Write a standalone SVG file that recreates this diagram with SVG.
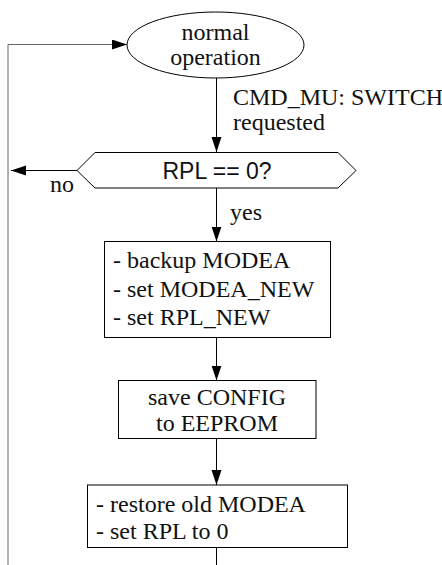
<svg xmlns="http://www.w3.org/2000/svg" width="442" height="565" viewBox="0 0 442 565">
<defs>
<marker id="ah" markerUnits="userSpaceOnUse" markerWidth="16" markerHeight="12" refX="15" refY="5" orient="auto">
<path d="M0,0 L15,5 L0,10 z" fill="#000"/>
</marker>
<style>
.s{fill:#fff;stroke:#000;stroke-width:1}
.t{font-family:"Liberation Serif","Times New Roman",serif;font-size:24px;fill:#111}
.a{font-family:"Liberation Sans",Arial,sans-serif;font-size:23px;fill:#111}
.c{fill:none;stroke:#000;stroke-width:1}
</style>
</defs>
<g id="connectors">
<path class="c" d="M8,565 V44.5 H127" style="stroke:#666" marker-end="url(#ah)"/>
<path class="c" d="M216.5,78 V152" marker-end="url(#ah)"/>
<path class="c" d="M77,170.5 H11" marker-end="url(#ah)"/>
<path class="c" d="M216.5,188 V241.5" marker-end="url(#ah)"/>
<path class="c" d="M216.5,337.5 V380.5" marker-end="url(#ah)"/>
<path class="c" d="M216.5,438.5 V485" marker-end="url(#ah)"/>
<path class="c" d="M216.5,547.5 V565"/>
<text class="t" x="233" y="105">CMD_MU: SWITCH</text>
<text class="t" x="233" y="130">requested</text>
<text class="t" x="50" y="192">no</text>
<text class="t" x="230" y="220">yes</text>
</g>
<g id="normal">
<ellipse class="s" cx="215.5" cy="45" rx="88.5" ry="33"/>
<text class="t" x="215.5" y="40" text-anchor="middle">normal</text>
<text class="t" x="215.5" y="65" text-anchor="middle">operation</text>
</g>
<g id="decision">
<polygon class="s" points="77,170.5 95,152.5 338,152.5 356,170.5 338,188 95,188"/>
<text class="a" x="217" y="178.5" text-anchor="middle">RPL == 0?</text>
</g>
<g id="backup">
<rect class="s" x="104.5" y="241.5" width="226" height="96"/>
<text class="t" x="113" y="268">- backup MODEA</text>
<text class="t" x="113" y="296.5">- set MODEA_NEW</text>
<text class="t" x="113" y="324.5">- set RPL_NEW</text>
</g>
<g id="save">
<rect class="s" x="118.5" y="380.5" width="197.5" height="58"/>
<text class="t" x="217" y="405" text-anchor="middle">save CONFIG</text>
<text class="t" x="217" y="431" text-anchor="middle">to EEPROM</text>
</g>
<g id="restore">
<rect class="s" x="87.5" y="485" width="260" height="62.5"/>
<text class="t" x="96" y="511.5">- restore old MODEA</text>
<text class="t" x="96" y="538.5">- set RPL to 0</text>
</g>
</svg>
